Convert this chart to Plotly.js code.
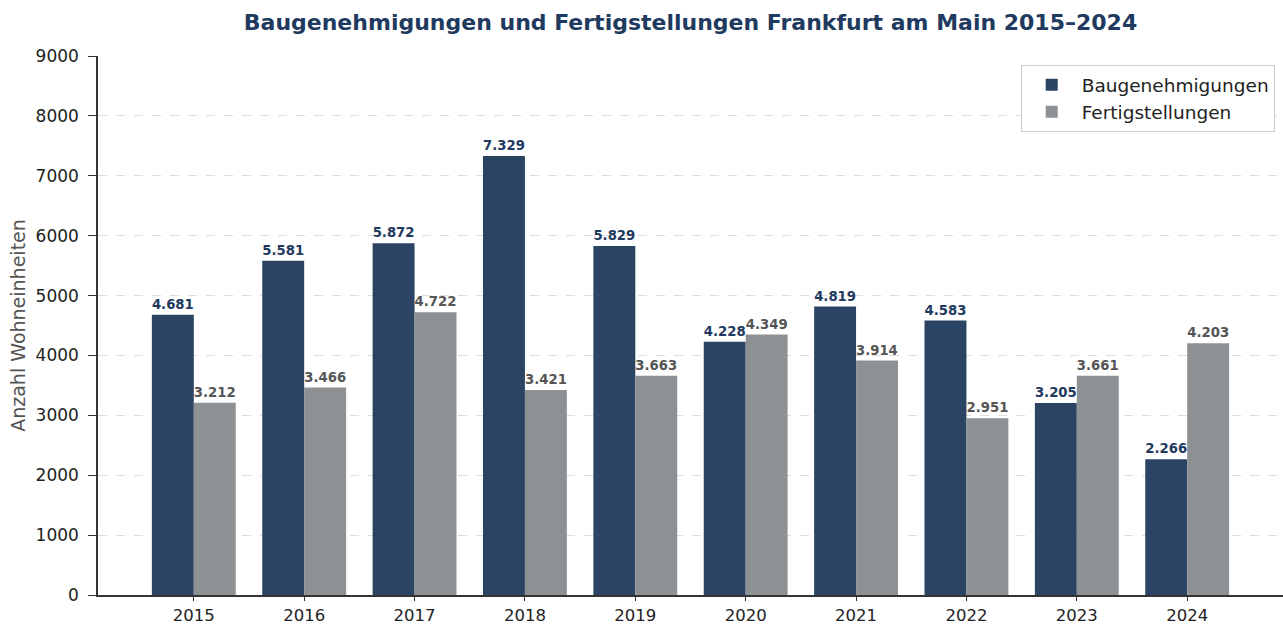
<!DOCTYPE html>
<html>
<head>
<meta charset="utf-8">
<script src="https://cdn.plot.ly/plotly-3.0.1.min.js"></script>
<style>html,body{margin:0;padding:0;background:#fff;}#chart{width:1283px;height:627px;}</style>
</head>
<body>
<div id="chart"></div>
<script>
const years = ["2015","2016","2017","2018","2019","2020","2021","2022","2023","2024"];
const baugenehmigungen = [4681, 5581, 5872, 7329, 5829, 4228, 4819, 4583, 3205, 2266];
const fertigstellungen = [3212, 3466, 4722, 3421, 3663, 4349, 3914, 2951, 3661, 4203];
const yTicks = [0,1000,2000,3000,4000,5000,6000,7000,8000,9000];

function fmt(v){ return String(v).replace(/\B(?=(\d{3})+(?!\d))/g, "."); }

const FONT = "DejaVu Sans, Verdana, sans-serif";
const traces = [
  {
    type: "bar", name: "Baugenehmigungen", x: years, y: baugenehmigungen,
    marker: {color: "#2c4463"},
    text: baugenehmigungen.map(fmt), textposition: "outside", cliponaxis: false,
    textfont: {family: FONT, size: 14, color: "#1f3a5f", weight: "bold"},
    hoverinfo: "x+y"
  },
  {
    type: "bar", name: "Fertigstellungen", x: years, y: fertigstellungen,
    marker: {color: "#8e9193"},
    text: fertigstellungen.map(fmt), textposition: "outside", cliponaxis: false,
    textfont: {family: FONT, size: 14, color: "#555555", weight: "bold"},
    hoverinfo: "x+y"
  }
];

const layout = {
  width: 1283, height: 627,
  margin: {l: 98, r: 0, t: 56, b: 32, pad: 0},
  paper_bgcolor: "#ffffff", plot_bgcolor: "#ffffff",
  font: {family: FONT, color: "#222222"},
  barmode: "group", bargap: 0.24, bargroupgap: 0,
  title: {
    text: "Baugenehmigungen und Fertigstellungen Frankfurt am Main 2015–2024",
    font: {family: FONT, size: 22, color: "#1f3a5f", weight: "bold"},
    x: 0.5, xref: "paper", xanchor: "center", y: 0.965, yref: "container", yanchor: "middle"
  },
  xaxis: {
    type: "category", range: [-0.868, 9.868],
    showline: true, linecolor: "#333333", linewidth: 1.5,
    ticks: "outside", ticklen: 4, tickcolor: "#333333", tickwidth: 1.2,
    tickfont: {family: FONT, size: 16.5, color: "#222222"},
    showgrid: false, zeroline: false, fixedrange: true
  },
  yaxis: {
    range: [0, 9000], tickvals: yTicks, ticktext: yTicks.map(String),
    showline: true, linecolor: "#333333", linewidth: 1.5,
    ticks: "outside", ticklen: 8, tickcolor: "#333333", tickwidth: 1.2,
    ticklabelstandoff: 6,
    tickfont: {family: FONT, size: 17, color: "#222222"},
    showgrid: true, gridcolor: "#dddddd", gridwidth: 1, griddash: "dash",
    zeroline: false,
    title: {text: "Anzahl Wohneinheiten", font: {family: FONT, size: 19, color: "#555555"}, standoff: 5},
    fixedrange: true
  },
  legend: {
    x: 0.993, xanchor: "right", y: 0.983, yanchor: "top",
    bgcolor: "#ffffff", bordercolor: "#cccccc", borderwidth: 1,
    font: {family: FONT, size: 18.5, color: "#222222"},
    itemwidth: 50,
    tracegroupgap: 2
  },
  showlegend: true
};

Plotly.newPlot("chart", traces, layout, {displayModeBar: false, responsive: false});
</script>
</body>
</html>
